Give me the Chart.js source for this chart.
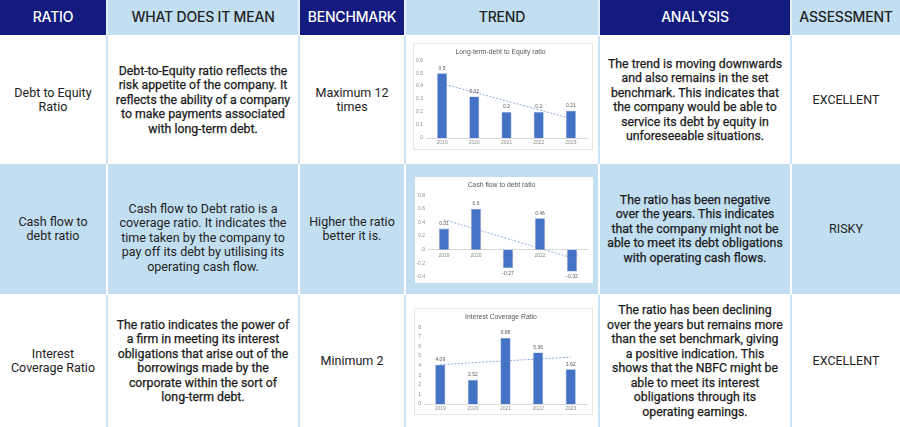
<!DOCTYPE html>
<html>
<head>
<meta charset="utf-8">
<script src="https://cdn.jsdelivr.net/npm/chart.js@4.4.1/dist/chart.umd.min.js"></script>
<style>
    body { margin: 0; width: 900px; height: 427px; overflow: hidden; background: #fff; font-family: Roboto, sans-serif; }
    .row { position: absolute; left: 0; width: 900px; display: flex; gap: 2px; }
    .cell { display: flex; align-items: center; justify-content: center; text-align: center; box-sizing: border-box; padding: 0 7px; color: #222; font-size: 12.5px; line-height: 14.5px; }
    .c1 { width: 106px; } .c2 { width: 190px; } .c3 { width: 104px; }
    .c4 { width: 192px; } .c5 { width: 190px; } .c6 { width: 108px; }
    .head { top: 0; height: 35px; background: #e4f0fa; }
    .head .cell { font-family: Inter, sans-serif; font-weight: 500; font-size: 14px; letter-spacing: -0.2px; text-transform: uppercase; padding: 0; }
    .navy { background: #131b7e; color: #fff !important; }
    .light { background: #c2dff2; }
    .plain { background: #cbe3f4; }
    .plain .cell { background: #fff; }
    .blue { background: #fff; }
    .blue .cell { background: #c2dff2; }
    .med { font-size: 12.3px; color: #1a1a1a; -webkit-text-stroke: 0.25px #1a1a1a; }
    .box { position: absolute; background: #fff; box-sizing: border-box; }
</style>
</head>
<body>
<div class="row head">
    <div class="cell c1 navy">Ratio</div>
    <div class="cell c2 light">What does it mean</div>
    <div class="cell c3 navy">Benchmark</div>
    <div class="cell c4 light">Trend</div>
    <div class="cell c5 navy">Analysis</div>
    <div class="cell c6 light">Assessment</div>
</div>
<div class="row plain" style="top:36px;height:128px;">
    <div class="cell c1">Debt to Equity Ratio</div>
    <div class="cell c2 med">Debt-to-Equity ratio reflects the risk appetite of the company. It reflects the ability of a company to make payments associated with long-term debt.</div>
    <div class="cell c3">Maximum 12 times</div>
    <div class="cell c4"></div>
    <div class="cell c5 med">The trend is moving downwards and also remains in the set benchmark. This indicates that the company would be able to service its debt by equity in unforeseeable situations.</div>
    <div class="cell c6">EXCELLENT</div>
</div>
<div class="row blue" style="top:164px;height:130px;">
    <div class="cell c1">Cash flow to debt ratio</div>
    <div class="cell c2" style="padding-top:18px;">Cash flow to Debt ratio is a coverage ratio. It indicates the time taken by the company to pay off its debt by utilising its operating cash flow.</div>
    <div class="cell c3">Higher the ratio better it is.</div>
    <div class="cell c4"></div>
    <div class="cell c5 med">The ratio has been negative over the years. This indicates that the company might not be able to meet its debt obligations with operating cash flows.</div>
    <div class="cell c6">RISKY</div>
</div>
<div class="row plain" style="top:295px;height:132px;">
    <div class="cell c1">Interest Coverage Ratio</div>
    <div class="cell c2 med" style="padding:0 2px;white-space:nowrap;">The ratio indicates the power of<br>a firm in meeting its interest<br>obligations that arise out of the<br>borrowings made by the<br>corporate within the sort of<br>long-term debt.</div>
    <div class="cell c3">Minimum 2</div>
    <div class="cell c4"></div>
    <div class="cell c5 med">The ratio has been declining over the years but remains more than the set benchmark, giving a positive indication. This shows that the NBFC might be able to meet its interest obligations through its operating earnings.</div>
    <div class="cell c6">EXCELLENT</div>
</div>

<div class="box" style="left:413px;top:43px;width:180px;height:107px;border:1px solid #e6e6e6;"><canvas id="debtChart"></canvas></div>
<div class="box" style="left:415px;top:177px;width:178px;height:106px;"><canvas id="cashChart"></canvas></div>
<div class="box" style="left:414px;top:308px;width:179px;height:107px;border:1px solid #e6e6e6;"><canvas id="interestChart"></canvas></div>

<script>
const years = ['2019', '2020', '2021', '2022', '2023'];

// Long-term debt to equity
const debtEquity = [0.5, 0.32, 0.2, 0.2, 0.21];
const debtEquityTrend = [0.42, null, null, null, 0.15];
const debtEquityAxis = [0, 0.6, 0.1];   // min, max, step

// Cash flow to debt
const cashFlowDebt = [0.31, 0.6, -0.27, 0.46, -0.32];
const cashFlowTrend = [0.44, null, null, null, -0.12];
const cashFlowAxis = [-0.4, 0.8, 0.2];

// Interest coverage
const interestCover = [4.09, 2.52, 6.88, 5.36, 3.62];
const interestTrend = [4.1, null, null, null, 4.88];
const interestAxis = [0, 8, 1];

const smallFont = { family: '"Liberation Sans", sans-serif', size: 5 };

// draws the value next to each bar, outside end
const valueLabels = {
    id: 'valueLabels',
    afterDatasetsDraw(chart) {
        const ctx = chart.ctx;
        const meta = chart.getDatasetMeta(0);
        const values = chart.data.datasets[0].data;
        ctx.save();
        ctx.font = '5px "Liberation Sans", sans-serif';
        ctx.fillStyle = '#595959';
        ctx.textAlign = 'center';
        ctx.textBaseline = 'middle';
        meta.data.forEach((bar, i) => {
            const v = values[i];
            ctx.fillText(String(v), bar.x, v >= 0 ? bar.y - 5 : bar.y + 5);
        });
        ctx.restore();
    }
};

function makeChart(id, title, values, trend, axis, opts) {
    new Chart(document.getElementById(id), {
        data: {
            labels: years,
            datasets: [{
                type: 'bar',
                data: values,
                backgroundColor: '#4472c4',
                borderColor: '#7b9ad6',
                borderWidth: 0.6,
                categoryPercentage: 1,
                barPercentage: 0.31,
                order: 1
            }, {
                type: 'line',
                data: trend,
                borderColor: '#8eaadb',
                borderWidth: 1,
                borderDash: [2, 1.5],
                pointRadius: 0,
                spanGaps: true,
                fill: false,
                order: 2
            }]
        },
        options: {
            responsive: true,
            maintainAspectRatio: false,
            animation: false,
            layout: { padding: opts.padding },
            plugins: {
                legend: { display: false },
                tooltip: { enabled: false },
                title: {
                    display: true,
                    text: title,
                    color: '#595959',
                    font: { family: '"Liberation Sans", sans-serif', size: 6.8, weight: 'normal' },
                    padding: opts.titlePadding
                }
            },
            scales: {
                x: {
                    position: opts.xPosition,
                    z: 1,
                    grid: { display: false, drawTicks: false },
                    border: { display: true, color: '#d9d9d9', width: 1 },
                    ticks: { font: smallFont, color: '#8c8c8c', padding: opts.xPad },
                    afterFit: s => { s.height = opts.xHeight; }
                },
                y: {
                    min: axis[0],
                    max: axis[1],
                    grid: { display: false, drawTicks: false },
                    border: { display: false },
                    ticks: {
                        stepSize: axis[2],
                        font: smallFont,
                        color: '#8c8c8c',
                        padding: 3,
                        callback: v => String(Number(v.toFixed(2)))
                    },
                    afterFit: s => { s.width = opts.yWidth; }
                }
            }
        },
        plugins: [valueLabels]
    });
}

makeChart('debtChart', 'Long-term-debt to Equity ratio', debtEquity, debtEquityTrend, debtEquityAxis, {
    padding: { left: 0, right: 5, top: 0, bottom: 3 },
    titlePadding: { top: 4, bottom: 4 },
    xPosition: 'bottom', xPad: 2, xHeight: 8, yWidth: 12
});

makeChart('cashChart', 'Cash flow to debt ratio', cashFlowDebt, cashFlowTrend, cashFlowAxis, {
    padding: { left: 0, right: 5, top: 0, bottom: 5 },
    titlePadding: { top: 4, bottom: 6 },
    xPosition: { y: 0 }, xPad: 3, xHeight: 0, yWidth: 13
});

makeChart('interestChart', 'Interest Coverage Ratio', interestCover, interestTrend, interestAxis, {
    padding: { left: 0, right: 5, top: 0, bottom: 2 },
    titlePadding: { top: 4, bottom: 6 },
    xPosition: 'bottom', xPad: 2, xHeight: 8, yWidth: 9
});
</script>
</body>
</html>
